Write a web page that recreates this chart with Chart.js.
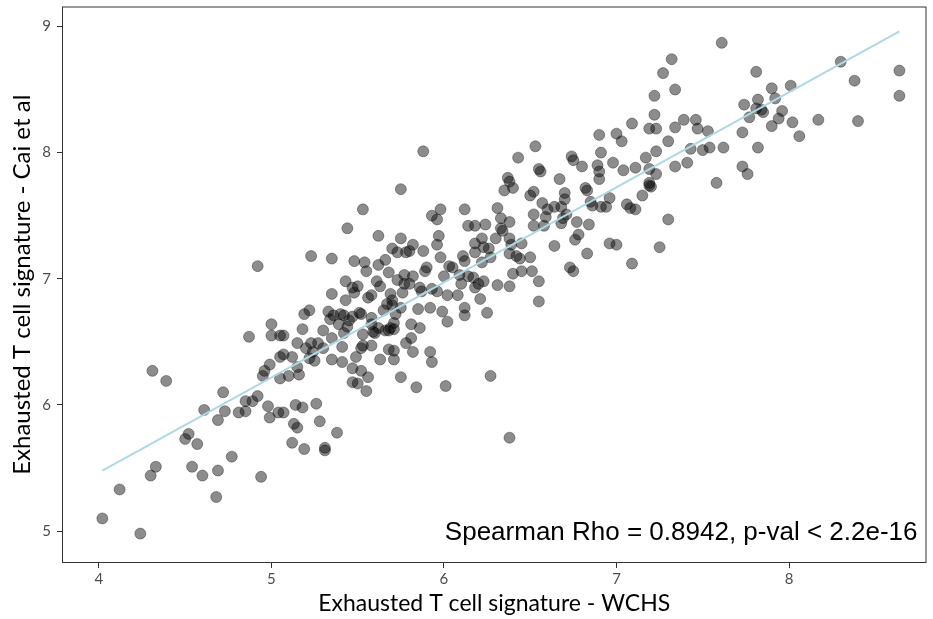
<!DOCTYPE html>
<html lang="en">
<head>
<meta charset="UTF-8">
<title>Exhausted T cell signature</title>
<script src="https://cdn.jsdelivr.net/npm/chart.js"></script>
<style>
    body { margin: 0; background: #ffffff; }
    #wrap { width: 933px; height: 619px; }
</style>
</head>
<body>
<div id="wrap"><canvas id="scatterChart" width="933" height="619"></canvas></div>
<script>
    // WCHS score (x) and Cai et al score (y) for each sample
    const wchsScore = [
        4.31, 4.39, 4.72, 4.61, 4.73, 4.69, 4.81, 4.85, 4.85, 4.89,
        4.92, 4.52, 4.50, 4.57, 4.77, 4.33, 4.30, 4.54, 4.60, 4.69,
        4.12, 4.68, 4.02, 4.24, 5.23, 4.92, 5.22, 5.19, 5.00, 5.18,
        4.87, 5.00, 5.05, 5.07, 5.15, 5.23, 5.20, 5.24, 5.25, 5.22,
        5.05, 5.07, 5.12, 5.15, 4.99, 4.96, 4.95, 5.05, 5.10, 5.16,
        4.98, 4.99, 5.04, 5.07, 5.14, 5.18, 5.26, 5.13, 5.15, 5.12,
        5.19, 4.94, 5.28,
        5.75, 5.53, 5.44, 5.62, 5.35, 5.48, 5.54, 5.55, 5.66, 5.62,
        5.68, 5.70, 5.73, 5.73, 5.43, 5.50, 5.47, 5.48, 5.61, 5.63,
        5.58, 5.56, 5.35, 5.43, 5.67, 5.70, 5.65, 5.33, 5.36, 5.40,
        5.42, 5.47, 5.51, 5.52, 5.58, 5.34, 5.45, 5.44, 5.39, 5.58,
        5.62, 5.66, 5.68, 5.71, 5.60, 5.59, 5.30, 5.35, 5.42, 5.53,
        5.27, 5.30, 5.41, 5.52, 5.53, 5.58, 5.49, 5.63, 5.68, 5.71,
        5.35, 5.41, 5.47, 5.52, 5.56, 5.47, 5.50, 5.55, 5.31, 5.31,
        5.38,
        5.88, 5.98, 5.93, 5.96, 6.12, 6.14, 6.18, 5.75, 5.97, 5.96,
        5.78, 5.80, 5.82, 5.88, 5.98, 6.18, 6.11, 6.12, 6.18, 6.03,
        6.05, 5.90, 5.89, 5.77, 5.82, 6.00, 6.09, 6.14, 6.17, 6.10,
        5.77, 5.80, 5.86, 5.87, 5.93, 5.96, 6.02, 6.08, 5.76, 5.69,
        5.70, 6.18, 5.85, 5.92, 5.99, 6.02, 6.12, 6.12, 5.75, 5.72,
        5.71, 5.69, 5.81, 5.86, 5.81, 5.78, 5.82, 5.92, 5.93, 5.71,
        5.75, 5.84, 6.01,
        6.40, 6.45, 6.51, 6.75, 6.31, 6.38, 6.55, 6.55, 6.21, 6.25,
        6.27, 6.38,
        6.53, 6.43, 6.55, 6.56, 6.37, 6.38, 6.35, 6.40, 6.67, 6.52,
        6.50, 6.31, 6.33, 6.38, 6.24, 6.33, 6.34, 6.38, 6.39, 6.45,
        6.22, 6.30, 6.26, 6.23, 6.27, 6.22, 6.38, 6.42, 6.44, 6.50,
        6.57, 6.60, 6.59, 6.58, 6.52, 6.52, 6.64, 6.64, 6.23, 6.20,
        7.09, 6.90, 7.00, 7.03, 6.91, 6.74, 6.75, 6.80, 6.89, 6.90,
        6.90, 6.98, 7.04, 7.11, 6.70, 6.70, 6.68, 6.82, 6.83, 6.85,
        6.86, 6.96, 6.91, 6.94, 7.06, 7.08, 7.11, 6.69, 6.68, 6.71,
        6.77, 6.84, 6.78, 6.76, 6.83, 6.96, 7.00, 6.73, 7.09,
        7.32, 7.27, 7.22, 7.34, 7.22, 7.19, 7.23, 7.34, 7.39, 7.46,
        7.47, 7.53, 7.30, 7.43, 7.50, 7.54, 7.23, 7.17, 7.19, 7.23,
        7.34, 7.41, 7.19, 7.19, 7.20, 7.15, 7.58, 7.30, 7.25,
        7.61, 7.81, 8.30, 8.64, 8.38, 8.64, 7.90, 7.92, 8.01, 7.74,
        7.82, 7.81, 7.85, 7.84, 7.77, 7.96, 7.94, 7.90, 8.02, 8.17,
        8.40, 8.06, 7.73, 7.62, 7.82, 7.73, 7.76
    ];
    const caiScore = [
        6.27, 6.19, 6.10, 5.96, 5.95, 5.88, 5.94, 6.03, 5.95, 6.03,
        6.07, 5.77, 5.73, 5.69, 5.59, 5.51, 5.44, 5.51, 5.44, 5.48,
        5.33, 5.27, 5.10, 4.98, 7.18, 7.10, 6.75, 6.72, 6.64, 6.60,
        6.54, 6.55, 6.55, 6.55, 6.49, 6.49, 6.45, 6.42, 6.35, 6.37,
        6.38, 6.40, 6.38, 6.30, 6.32, 6.27, 6.23, 6.21, 6.23, 6.24,
        5.99, 5.90, 5.94, 5.94, 6.00, 5.98, 6.01, 5.85, 5.82, 5.70,
        5.65, 5.43, 5.87,
        7.71, 7.55, 7.40, 7.34, 7.16, 7.14, 7.13, 7.06, 7.15, 7.11,
        7.05, 7.24, 7.21, 6.99, 6.98, 6.94, 6.93, 6.89, 6.98, 6.94,
        6.87, 6.85, 6.88, 6.83, 6.80, 6.79, 6.75, 6.74, 6.71, 6.72,
        6.71, 6.70, 6.73, 6.72, 6.69, 6.68, 6.67, 6.62, 6.64, 6.64,
        6.61, 6.59, 6.59, 6.60, 6.57, 6.58, 6.59, 6.53, 6.57, 6.56,
        6.49, 6.45, 6.46, 6.45, 6.47, 6.47, 6.38, 6.36, 6.44, 6.43,
        6.36, 6.34, 6.29, 6.27, 6.22, 6.18, 6.17, 6.11, 5.66, 5.64,
        5.78,
        8.01, 7.55, 7.50, 7.47, 7.55, 7.42, 7.42, 7.32, 7.34, 7.27,
        7.21, 7.22, 7.27, 7.22, 7.17, 7.28, 7.18, 7.14, 7.21, 7.10,
        7.09, 7.09, 7.06, 7.03, 7.02, 7.02, 7.03, 7.02, 7.01, 6.96,
        6.96, 6.96, 6.93, 6.90, 6.92, 6.90, 6.87, 6.87, 6.89, 6.88,
        6.83, 6.93, 6.76, 6.77, 6.74, 6.66, 6.77, 6.71, 6.77, 6.72,
        6.65, 6.61, 6.64, 6.61, 6.53, 6.49, 6.42, 6.42, 6.34, 6.36,
        6.22, 6.14, 6.15,
        7.04, 7.06, 7.06, 7.06, 6.95, 6.94, 6.98, 6.82, 6.84, 6.73,
        6.23, 5.74,
        8.05, 7.96, 7.87, 7.85, 7.80, 7.77, 7.70, 7.72, 7.79, 7.69,
        7.66, 7.56, 7.48, 7.45, 7.43, 7.40, 7.38, 7.32, 7.27, 7.28,
        7.32, 7.32, 7.24, 7.25, 7.17, 7.13, 7.20, 7.18, 7.16, 7.17,
        7.60, 7.55, 7.49, 7.42, 7.51, 7.42, 7.57, 7.26, 6.98, 6.96,
        8.23, 8.14, 8.15, 8.09, 8.00, 7.97, 7.94, 7.89, 7.90, 7.85,
        7.79, 7.92, 7.86, 7.88, 7.68, 7.63, 7.57, 7.72, 7.70, 7.61,
        7.58, 7.64, 7.57, 7.57, 7.59, 7.56, 7.55, 7.48, 7.44, 7.51,
        7.45, 7.43, 7.35, 7.31, 7.20, 7.28, 7.27, 7.09, 7.12,
        8.74, 8.63, 8.45, 8.50, 8.30, 8.19, 8.19, 8.20, 8.26, 8.26,
        8.19, 8.17, 8.09, 8.03, 8.02, 8.04, 8.01, 7.96, 7.87, 7.83,
        7.89, 7.92, 7.76, 7.74, 7.73, 7.66, 7.76, 7.47, 7.25,
        8.87, 8.64, 8.72, 8.65, 8.57, 8.45, 8.51, 8.43, 8.53, 8.38,
        8.42, 8.35, 8.32, 8.34, 8.28, 8.33, 8.27, 8.21, 8.24, 8.26,
        8.25, 8.13, 8.16, 8.04, 8.04, 7.89, 7.83
    ];

    // fitted line end points
    const fitX = [4.02, 8.64];
    const fitY = [5.48, 8.96];

    const xTicks = [4, 5, 6, 7, 8];
    const yTicks = [5, 6, 7, 8, 9];
    const xRange = [3.786, 8.797];
    const yRange = [4.747, 9.158];

    const xTitle = 'Exhausted T cell signature - WCHS';
    const yTitle = 'Exhausted T cell signature - Cai et al';
    const statText = 'Spearman Rho = 0.8942, p-val < 2.2e-16';

    const points = wchsScore.map((x, i) => ({ x: x, y: caiScore[i] }));
    const fitLine = fitX.map((x, i) => ({ x: x, y: fitY[i] }));

    const axisFont = { family: 'Lato, "Open Sans", sans-serif', size: 15 };
    const xTitleFont = { family: 'Lato, "Open Sans", sans-serif', size: 23, lineHeight: 1.2 };
    const yTitleFont = { family: 'Lato, "Open Sans", sans-serif', size: 24, lineHeight: 1.2 };

    // panel border + stats text
    const panelFrame = {
        id: 'panelFrame',
        afterDatasetsDraw(chart) {
            const { ctx, chartArea: a } = chart;
            ctx.save();
            ctx.strokeStyle = '#333333';
            ctx.lineWidth = 1;
            ctx.strokeRect(a.left + 0.5, a.top + 0.5, a.right - a.left - 1, a.bottom - a.top - 1);
            ctx.font = '26px "Liberation Sans", Arial, sans-serif';
            ctx.fillStyle = '#000000';
            ctx.textAlign = 'right';
            ctx.textBaseline = 'alphabetic';
            ctx.fillText(statText, a.right - 9, a.bottom - 23);
            ctx.restore();
        }
    };

    new Chart(document.getElementById('scatterChart'), {
        type: 'scatter',
        data: {
            datasets: [
                {
                    type: 'line',
                    data: fitLine,
                    borderColor: '#add8e6',
                    borderWidth: 2,
                    pointRadius: 0,
                    fill: false,
                    order: 0
                },
                {
                    data: points,
                    backgroundColor: 'rgba(0, 0, 0, 0.45)',
                    borderColor: 'rgba(0, 0, 0, 0.35)',
                    borderWidth: 1,
                    pointRadius: 5.5,
                    order: 1
                }
            ]
        },
        options: {
            responsive: false,
            animation: false,
            layout: { padding: { top: 5, right: 3, left: 0, bottom: 0 } },
            plugins: {
                legend: { display: false },
                tooltip: { enabled: false }
            },
            scales: {
                x: {
                    type: 'linear',
                    min: xRange[0],
                    max: xRange[1],
                    afterBuildTicks: s => { s.ticks = xTicks.map(v => ({ value: v })); },
                    afterFit: s => { s.height = 56; s.paddingLeft = 0; s.paddingRight = 0; },
                    grid: { drawOnChartArea: false, drawTicks: true, tickLength: 5, color: '#333333' },
                    border: { display: false },
                    ticks: { font: axisFont, color: '#4d4d4d', padding: 2, maxRotation: 0 },
                    title: { display: true, text: xTitle, font: xTitleFont, color: '#000000', padding: { top: 0, bottom: 2 } }
                },
                y: {
                    type: 'linear',
                    min: yRange[0],
                    max: yRange[1],
                    afterBuildTicks: s => { s.ticks = yTicks.map(v => ({ value: v })); },
                    afterFit: s => { s.width = 62; s.paddingTop = 0; s.paddingBottom = 0; },
                    grid: { drawOnChartArea: false, drawTicks: true, tickLength: 5, color: '#333333' },
                    border: { display: false },
                    ticks: { font: axisFont, color: '#4d4d4d', padding: 6 },
                    title: { display: true, text: yTitle, font: yTitleFont, color: '#000000', padding: { top: 8, bottom: 0 } }
                }
            }
        },
        plugins: [panelFrame]
    });
</script>
</body>
</html>
